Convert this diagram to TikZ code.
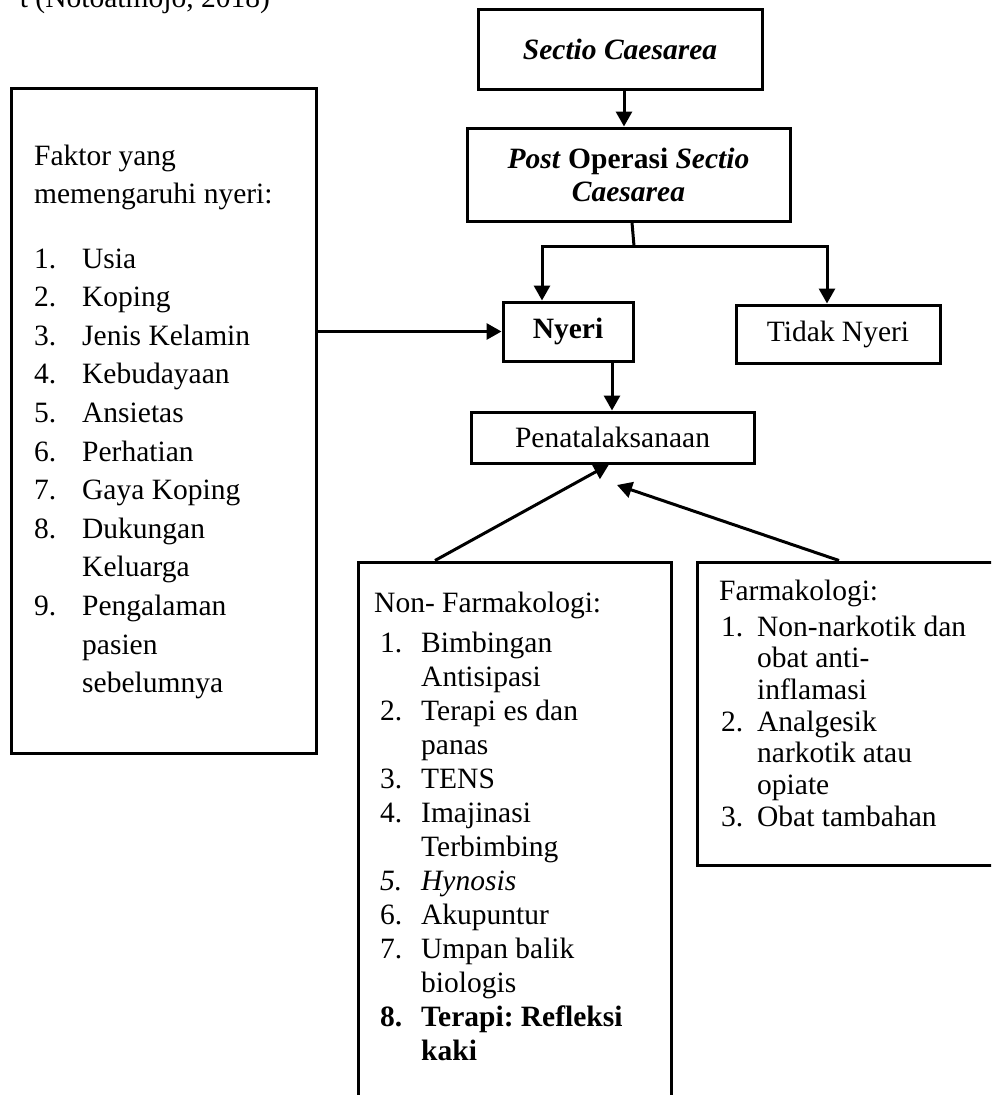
\documentclass[tikz,border=0pt]{standalone}
\usepackage{fontspec}
\setmainfont{Liberation Serif}
\usetikzlibrary{arrows.meta}
\newcommand\myitem[3]{\makebox[#1][l]{#2}#3}
\frenchspacing
\begin{document}
\begin{tikzpicture}[x=1pt,y=-1pt,
  every node/.style={font=\fontsize{29.5pt}{34pt}\selectfont},
  box/.style={draw, line width=3pt, inner sep=0pt},
  txt/.style={anchor=base west, inner sep=0pt},
  arr/.style={line width=3pt, -{Triangle[width=16pt,length=15pt]}},
  ln/.style={line width=3pt}]
\useasboundingbox (0,0) rectangle (991,1095);
\clip (0,0) rectangle (991,1095);
\node[txt, anchor=base east] (cite) at (270,7) {t (Notoatmojo, 2018)};
% boxes
\node[box, minimum width=284pt, minimum height=80pt] (sc) at (620,49) {\textbf{\textit{Sectio Caesarea}}};
\node[box, minimum width=323pt, minimum height=93pt, align=center, font=\fontsize{29.5pt}{33pt}\selectfont] (post) at (628.5,174.5) {\textbf{\textit{Post} Operasi \textit{Sectio}}\\\textbf{\textit{Caesarea}}};
\node[box, minimum width=130pt, minimum height=59pt] (nyeri) at (568,331.5) {\textbf{Nyeri}};
\node[box, minimum width=204pt, minimum height=58pt] (tidak) at (838,334) {Tidak Nyeri};
\node[box, minimum width=283pt, minimum height=51pt] (penat) at (612.5,437.5) {Penatalaksanaan};
\node[box, minimum width=305pt, minimum height=665pt] (faktor) at (163.5,420.5) {};
\node[box, minimum width=313pt, minimum height=548pt] (nonfarm) at (514.5,836) {};
\node[box, minimum width=308pt, minimum height=303pt] (farm) at (851,713.5) {};
% connectors
\draw[arr] ([xshift=4pt]sc.south) -- ([xshift=-4.5pt]post.north);
\coordinate (split) at (634,246);
\draw[ln] ([xshift=3.5pt]post.south) -- (split);
\draw[arr] (split) -| ([xshift=-26pt]nyeri.north);
\draw[arr] (split) -| ([xshift=-11pt]tidak.north);
\draw[arr] (faktor.east |- nyeri.west) -- (nyeri.west);
\coordinate (np) at ([xshift=44pt]nyeri.south);
\draw[arr] (np) -- (np |- penat.north);
\draw[arr] ([xshift=-79.5pt]nonfarm.north) -- ([xshift=-3.5pt]penat.south);
\coordinate (ftip) at (617,485);
\draw[arr] ([xshift=-12pt]farm.north) -- (ftip);
% left box text
\node[txt] (h1) at (34,165) {Faktor yang};
\node[txt] (h2) at (34,203) {memengaruhi nyeri:};
\foreach \n/\t [count=\i] in {1./Usia, 2./Koping, 3./Jenis Kelamin, 4./Kebudayaan, 5./Ansietas, 6./Perhatian, 7./Gaya Koping, 8./Dukungan, /Keluarga, 9./Pengalaman, /pasien, /sebelumnya}
  \node[txt] (L\i) at (34,{268+38.6*(\i-1)}) {\myitem{48pt}{\n}{\t}};
% non-farmakologi text
\node[txt] (nfh) at (374,612) {Non- Farmakologi:};
\foreach \n/\t [count=\i] in {1./Bimbingan, /Antisipasi, 2./Terapi es dan, /panas, 3./TENS, 4./Imajinasi, /Terbimbing, \textit{5.}/\textit{Hynosis}, 6./Akupuntur, 7./Umpan balik, /biologis, \textbf{8.}/\textbf{Terapi: Refleksi}, /\textbf{kaki}}
  \node[txt] (N\i) at (380,{652+34*(\i-1)}) {\myitem{41pt}{\n}{\t}};
% farmakologi text
\node[txt] (fh) at (719,600) {Farmakologi:};
\foreach \n/\t [count=\i] in {1./Non-narkotik dan, /obat anti-, /inflamasi, 2./Analgesik, /narkotik atau, /opiate, 3./Obat tambahan}
  \node[txt] (F\i) at (721,{636+31.7*(\i-1)}) {\myitem{36pt}{\n}{\t}};
\end{tikzpicture}
\end{document}
